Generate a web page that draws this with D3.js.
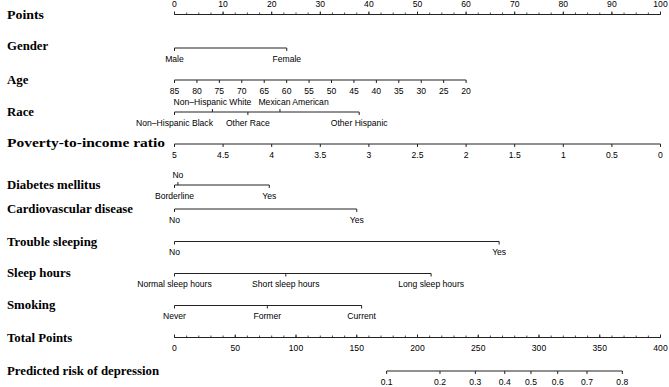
<!DOCTYPE html>
<html>
<head>
<meta charset="utf-8">
<script src="https://cdn.jsdelivr.net/npm/d3@7"></script>
<style>
  body { margin: 0; background: #fff; }
  .var { font-family: "Liberation Serif", "Times New Roman", serif; font-weight: bold; font-size: 12.8px; fill: #000; }
  .tl { font-family: "Liberation Sans", Arial, sans-serif; font-size: 8.6px; fill: #000; }
</style>
</head>
<body>
<div id="chart"></div>
<script>
// ---- data ----
const pointTicks = d3.range(0, 101, 10);
const pointMinor = d3.range(0, 100.1, 2.5);

const genderLevels = ["Male", "Female"];
const genderPoints = [0, 23.1];

const ageTicks = [85, 80, 75, 70, 65, 60, 55, 50, 45, 40, 35, 30, 25, 20];
const ageRange = [85, 20];
const agePointRange = [0, 60];

const raceLevels = ["Non\u2013Hispanic Black", "Non\u2013Hispanic White", "Other Race", "Mexican American", "Other Hispanic"];
const racePoints = [0, 7.8, 15.1, 21.7, 38.0];
const raceLabelPoints = [0, 7.8, 15.1, 24.5, 38.0];
const raceAbove = [false, true, false, true, false];

const pirTicks = [5, 4.5, 4, 3.5, 3, 2.5, 2, 1.5, 1, 0.5, 0];
const pirRange = [5, 0];
const pirPointRange = [0, 100];

const diabetesLevels = ["Borderline", "No", "Yes"];
const diabetesPoints = [0, 0.7, 19.5];
const diabetesAbove = [false, true, false];

const cvdLevels = ["No", "Yes"];
const cvdPoints = [0, 37.5];

const troubleLevels = ["No", "Yes"];
const troublePoints = [0, 66.8];

const sleepLevels = ["Normal sleep hours", "Short sleep hours", "Long sleep hours"];
const sleepPoints = [0, 22.9, 52.8];

const smokingLevels = ["Never", "Former", "Current"];
const smokingPoints = [0, 19.1, 38.5];

const totalTicks = d3.range(0, 401, 50);
const totalMinor = d3.range(0, 401, 10);

const riskTicks = [0.1, 0.2, 0.3, 0.4, 0.5, 0.6, 0.7, 0.8];
const riskTotals = [174.6, 218.5, 247.6, 271.8, 293.4, 315.4, 339.5, 368.6];

// ---- layout ----
const width = 669, height = 387;
const svg = d3.select("#chart").append("svg")
    .attr("width", width)
    .attr("height", height);

const x = d3.scaleLinear().domain([0, 100]).range([174.5, 660.5]);
const xTotal = d3.scaleLinear().domain([0, 400]).range([174.5, 660.5]);

const tickLen = 3;
const labelGap = 10.5;

function drawRow(name, y, ticks, opts = {}) {
    const g = svg.append("g");
    const title = g.append("text")
        .attr("class", "var")
        .attr("x", 7)
        .attr("y", y + (opts.nameDy || 0))
        .attr("dy", "0.35em")
        .text(name);
    if (opts.nameWidth) {
        title.attr("textLength", opts.nameWidth).attr("lengthAdjust", "spacingAndGlyphs");
    }

    const xs = ticks.map(t => t.px);
    g.append("line")
        .attr("x1", d3.min(xs)).attr("x2", d3.max(xs))
        .attr("y1", y).attr("y2", y)
        .attr("stroke", "#222").attr("stroke-width", 1);

    (opts.minor || []).forEach(px => {
        g.append("line")
            .attr("x1", px).attr("x2", px)
            .attr("y1", y).attr("y2", y + (opts.minorUp ? -2 : 2))
            .attr("stroke", "#222").attr("stroke-width", 0.8);
    });

    ticks.forEach(t => {
        g.append("line")
            .attr("x1", t.px).attr("x2", t.px)
            .attr("y1", y).attr("y2", y + (t.up ? -tickLen : tickLen))
            .attr("stroke", "#222").attr("stroke-width", 1);
        g.append("text")
            .attr("class", "tl")
            .attr("x", t.labelPx !== undefined ? t.labelPx : t.px)
            .attr("y", y + (t.above ? -labelGap : labelGap))
            .attr("dy", "0.35em")
            .attr("text-anchor", "middle")
            .text(t.label);
    });
}

function levelTicks(levels, pts, above, labelPts) {
    return levels.map((l, i) => ({
        px: x(pts[i]),
        labelPx: labelPts ? x(labelPts[i]) : undefined,
        label: l,
        up: above ? above[i] : false,
        above: above ? above[i] : false
    }));
}

// Points
drawRow("Points", 14.5,
    pointTicks.map(v => ({ px: x(v), label: v, up: true, above: true })),
    { minor: pointMinor.map(v => x(v)), minorUp: true, nameWidth: 37 });

drawRow("Gender", 48, levelTicks(genderLevels, genderPoints), { nameDy: -2 });

const agePts = d3.scaleLinear().domain(ageRange).range(agePointRange);
drawRow("Age", 80, ageTicks.map(a => ({ px: x(agePts(a)), label: a, up: false, above: false })));

drawRow("Race", 112, levelTicks(raceLevels, racePoints, raceAbove, raceLabelPoints));

const pirPts = d3.scaleLinear().domain(pirRange).range(pirPointRange);
drawRow("Poverty-to-income ratio", 144,
    pirTicks.map(p => ({ px: x(pirPts(p)), label: p, up: false, above: false })),
    { nameDy: -1, nameWidth: 158 });

drawRow("Diabetes mellitus", 185, levelTicks(diabetesLevels, diabetesPoints, diabetesAbove));
drawRow("Cardiovascular disease", 209, levelTicks(cvdLevels, cvdPoints));
drawRow("Trouble sleeping", 241.5, levelTicks(troubleLevels, troublePoints));
drawRow("Sleep hours", 273.5, levelTicks(sleepLevels, sleepPoints), { nameDy: -1 });
drawRow("Smoking", 305.5, levelTicks(smokingLevels, smokingPoints), { nameDy: -1 });

drawRow("Total Points", 337.5,
    totalTicks.map(v => ({ px: xTotal(v), label: v, up: true, above: false })),
    { minor: totalMinor.map(v => xTotal(v)), minorUp: true });

drawRow("Predicted risk of depression", 371,
    riskTicks.map((r, i) => ({ px: xTotal(riskTotals[i]), label: r, up: false, above: false })));
</script>
</body>
</html>
